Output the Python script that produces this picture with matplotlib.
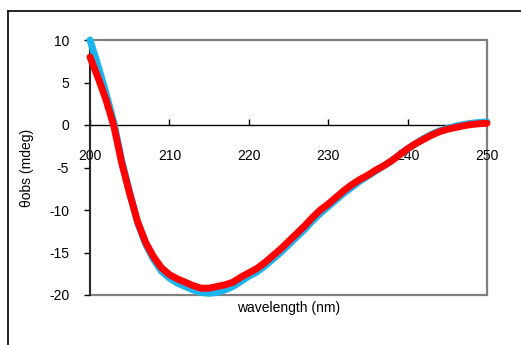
import numpy as np
import matplotlib
matplotlib.use("Agg")
import matplotlib.pyplot as plt
from matplotlib.patches import Rectangle
from matplotlib.lines import Line2D

plt.rcParams['font.family'] = ['Liberation Sans', 'DejaVu Sans']

# CD spectra, 200-250 nm at 1 nm steps
wavelength = np.arange(200, 251, 1)
theta_blue = [10.0, 7.0, 3.8, 0.3, -4.2, -7.9, -11.5, -14.0, -15.8, -17.2,
              -18.0, -18.6, -19.0, -19.4, -19.7, -19.8, -19.7, -19.4, -19.0, -18.4,
              -17.8, -17.3, -16.6, -15.8, -15.0, -14.1, -13.2, -12.3, -11.3, -10.4,
              -9.6, -8.8, -8.0, -7.3, -6.6, -6.0, -5.4, -4.8, -4.2, -3.5,
              -2.8, -2.2, -1.6, -1.1, -0.7, -0.4, -0.15, 0.05, 0.2, 0.3, 0.35]
theta_red = [8.0, 5.6, 3.0, -0.1, -4.5, -8.1, -11.4, -13.8, -15.5, -16.8,
             -17.6, -18.1, -18.5, -18.9, -19.2, -19.2, -19.0, -18.8, -18.5, -17.9,
             -17.4, -16.9, -16.2, -15.4, -14.6, -13.7, -12.8, -11.9, -10.9, -10.0,
             -9.3, -8.5, -7.7, -7.0, -6.4, -5.9, -5.3, -4.8, -4.2, -3.5,
             -2.8, -2.2, -1.7, -1.2, -0.8, -0.5, -0.3, -0.1, 0.05, 0.15, 0.2]

x_ticks = [200, 210, 220, 230, 240, 250]
y_ticks = [10, 5, 0, -5, -10, -15, -20]

fig = plt.figure(figsize=(5.21, 3.45), dpi=100)
W, H = 521, 345

# outer chart frame
fig.add_artist(Line2D([8 / W, 1.0], [1 - 11 / H, 1 - 11 / H], transform=fig.transFigure,
                      color='black', lw=1.2))
fig.add_artist(Line2D([8 / W, 8 / W], [0.0, 1 - 11 / H], transform=fig.transFigure,
                      color='black', lw=1.2))

ax = fig.add_axes([90 / W, 1 - 295 / H, (487 - 90) / W, (295 - 40) / H])

ax.plot(wavelength, theta_blue, color='#1CB4EC', lw=5.0, solid_capstyle='round',
        solid_joinstyle='round', zorder=3, clip_on=False)
ax.plot(wavelength, theta_red, color='#FF0000', lw=5.0, solid_capstyle='round',
        solid_joinstyle='round', zorder=4, clip_on=False)

ax.set_xlim(200, 250)
ax.set_ylim(-20, 10)

# plot area border
ax.add_patch(Rectangle((0, 0), 1, 1, transform=ax.transAxes, fill=False,
                       edgecolor='#808080', lw=1.6, zorder=1, clip_on=False))
for s in ['top', 'right']:
    ax.spines[s].set_visible(False)
ax.spines['left'].set_color('#202020')
ax.spines['left'].set_linewidth(1.3)
ax.spines['left'].set_zorder(2)

# horizontal axis crossing at zero
ax.spines['bottom'].set_position(('data', 0))
ax.spines['bottom'].set_color('black')
ax.spines['bottom'].set_linewidth(1.0)

ax.set_xticks(x_ticks)
ax.set_xticklabels([str(v) for v in x_ticks])
ax.set_yticks(y_ticks)
ax.set_yticklabels([str(v) for v in y_ticks])
ax.tick_params(axis='x', direction='in', length=4, width=1, color='black',
               pad=17, labelsize=10, colors='black')
ax.tick_params(axis='y', direction='out', length=4, width=1, color='black',
               pad=11, labelsize=10)

ax.text(0.5, -0.025, 'wavelength (nm)', transform=ax.transAxes, ha='center', va='top',
        fontsize=10)
ax.set_ylabel('θobs (mdeg)', fontsize=10, labelpad=11)

fig.savefig('out.png', dpi=100)
